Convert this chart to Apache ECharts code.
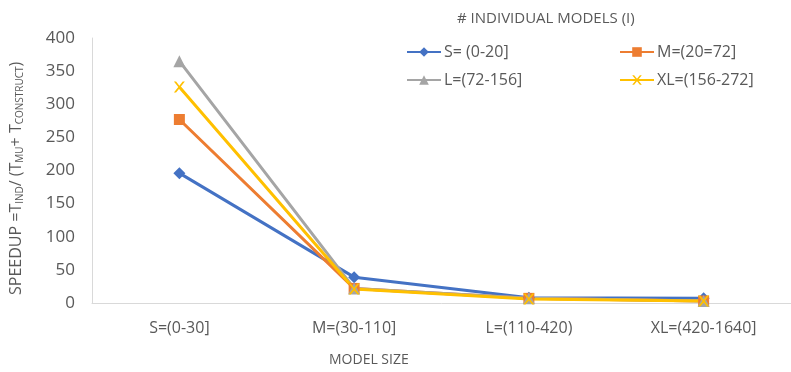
<!DOCTYPE html>
<html><head><meta charset="utf-8">
<script src="https://cdn.jsdelivr.net/npm/echarts@6/dist/echarts.min.js"></script>
<style>html,body{margin:0;padding:0;background:#fff}#c{width:791px;height:372px}</style>
</head><body><div id="c"></div>
<script>
const categories = ['S=(0-30]', 'M=(30-110]', 'L=(110-420)', 'XL=(420-1640]'];
const seriesNames = ['S= (0-20]', 'M=(20=72]', 'L=(72-156]', 'XL=(156-272]'];
const sValues = [196, 39, 8, 7];
const mValues = [277, 22, 7, 3];
const lValues = [365, 22, 7, 3];
const xlValues = [326, 21, 6, 3];
const yTicks = [0, 50, 100, 150, 200, 250, 300, 350, 400];

const colors = ['#4472C4', '#ED7D31', '#A5A5A5', '#FFC000'];
const symbols = ['diamond', 'rect', 'triangle', 'path://M0,0 L2,0 L5,3 L8,0 L10,0 L6,4 L10,8 L8,8 L5,5 L2,8 L0,8 L4,4 Z'];
const symSizes = [12, 11, 12, 11];
const allValues = [sValues, mValues, lValues, xlValues];
const legendPos = [[401, 39], [614, 39], [401, 67], [614, 67]];

const chart = echarts.init(document.getElementById('c'));
const font = 'Open Sans, Liberation Sans, sans-serif';
chart.setOption({
  animation: false,
  color: colors,
  title: {
    text: '# INDIVIDUAL MODELS (I)',
    left: 452, top: 6,
    textStyle: { color: '#595959', fontSize: 15, fontWeight: 'normal', fontFamily: font }
  },
  legend: seriesNames.map((n, i) => ({
    data: [n], left: legendPos[i][0], top: legendPos[i][1],
    itemWidth: 34, itemHeight: 12, itemGap: 4,
    textStyle: { color: '#595959', fontSize: 16, fontFamily: font, padding: [0, 0, 0, -2] }
  })),
  grid: { left: 92, top: 38, width: 711, height: 265, containLabel: false },
  xAxis: {
    type: 'category', data: categories, boundaryGap: true,
    axisLine: { lineStyle: { color: '#D9D9D9', width: 1 } },
    axisTick: { show: false },
    axisLabel: { color: '#595959', fontSize: 16, fontFamily: font, margin: 17, interval: 0 }
  },
  yAxis: {
    type: 'value', min: yTicks[0], max: yTicks[yTicks.length - 1], interval: 50,
    axisLine: { show: true, lineStyle: { color: '#D9D9D9', width: 1 } },
    axisTick: { show: false },
    splitLine: { show: false },
    axisLabel: { color: '#595959', fontSize: 17, fontFamily: font, margin: 17 }
  },
  graphic: [
    {
      type: 'text', left: 329, top: 353,
      style: { text: 'MODEL SIZE', fill: '#595959', font: '14px ' + font }
    },
    {
      type: 'text', x: 7, y: 295, rotation: Math.PI / 2,
      style: {
        text: 'SPEEDUP =T{s|IND}/ (T{s|MU}+ T{s|CONSTRUCT})',
        fill: '#595959', font: '16px ' + font,
        rich: {
          s: { fontSize: 10, fontFamily: font, fill: '#595959', padding: [8, 0, 0, 0] }
        }
      }
    }
  ],
  series: allValues.map((vals, i) => ({
    name: seriesNames[i], type: 'line', data: vals,
    symbol: symbols[i], symbolSize: symSizes[i],
    lineStyle: { width: 3, color: colors[i] },
    itemStyle: { color: colors[i] }
  }))
});
</script></body></html>
